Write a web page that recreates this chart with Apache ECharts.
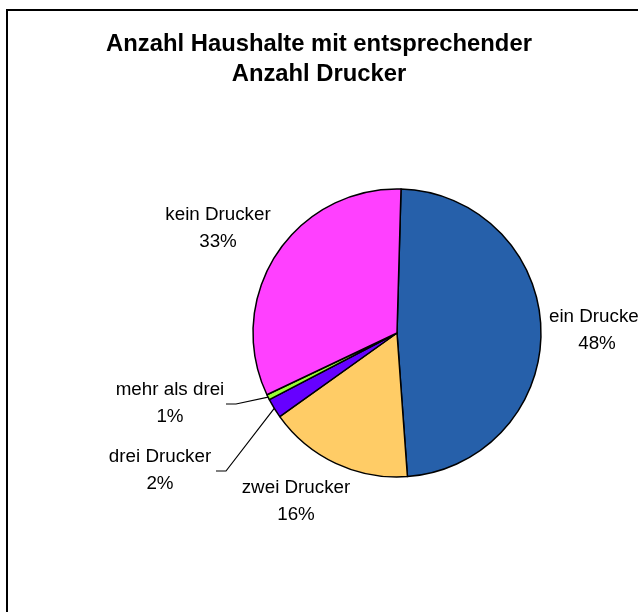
<!DOCTYPE html>
<html>
<head>
<meta charset="utf-8">
<title>Anzahl Drucker</title>
<script src="https://cdn.jsdelivr.net/npm/echarts@6/dist/echarts.min.js"></script>
<style>
  html, body { margin: 0; padding: 0; background: #fff; }
  #chart { width: 638px; height: 612px; }
</style>
</head>
<body>
<div id="chart"></div>
<script>
  // Anteile (Prozent der Haushalte), im Uhrzeigersinn ab 12 Uhr
  var categories = ['ein Drucker', 'zwei Drucker', 'drei Drucker', 'mehr als drei', 'kein Drucker'];
  var shares = [48.4, 16.3, 2.2, 0.6, 32.5];
  var sliceColors = ['#2660AA', '#FFCC66', '#6600FF', '#99FF33', '#FF40FF'];
  // nur die kleinen Segmente bekommen eine Führungslinie
  var withLine = [false, false, true, true, false];
  // Mittelpunkte der Beschriftungen
  var labelPos = [[597, 330], [296, 501], [160, 470], [170, 403], [218, 228]];

  var chart = echarts.init(document.getElementById('chart'));
  var font = '"Liberation Sans", Arial, sans-serif';

  var option = {
    backgroundColor: '#fff',
    animation: false,
    title: {
      text: 'Anzahl Haushalte mit entsprechender\nAnzahl Drucker',
      left: 'center',
      top: 29,
      padding: [0, 0, 0, 12],
      textStyle: {
        fontFamily: font,
        fontWeight: 'bold',
        fontSize: 23.8,
        lineHeight: 30,
        color: '#000'
      }
    },
    graphic: [{
      type: 'rect',
      z: -1,
      shape: { x: 7, y: 10, width: 700, height: 700 },
      style: { fill: null, stroke: '#000', lineWidth: 2 }
    }],
    series: [{
      type: 'pie',
      center: [397, 333],
      radius: 144,
      startAngle: 88.4,
      clockwise: true,
      avoidLabelOverlap: false,
      percentPrecision: 0,
      emphasis: { disabled: true },
      itemStyle: { borderColor: '#000', borderWidth: 1.5 },
      label: {
        show: true,
        position: 'outside',
        formatter: '{b}\n{d}%',
        fontFamily: font,
        fontSize: 18.8,
        lineHeight: 27,
        color: '#000'
      },
      labelLine: {
        lineStyle: { color: '#000', width: 1.2 }
      },
      labelLayout: function (params) {
        var p = labelPos[params.dataIndex];
        var res = { x: p[0], y: p[1], align: 'center', verticalAlign: 'middle' };
        if (withLine[params.dataIndex] && params.labelLinePoints) {
          res.labelLinePoints = [
            params.labelLinePoints[0],
            [p[0] + 66, p[1] + 1],
            [p[0] + 56, p[1] + 1]
          ];
        }
        return res;
      },
      data: categories.map(function (name, i) {
        return {
          name: name,
          value: shares[i],
          itemStyle: { color: sliceColors[i] },
          labelLine: { show: withLine[i] }
        };
      })
    }]
  };

  chart.setOption(option);
</script>
</body>
</html>
